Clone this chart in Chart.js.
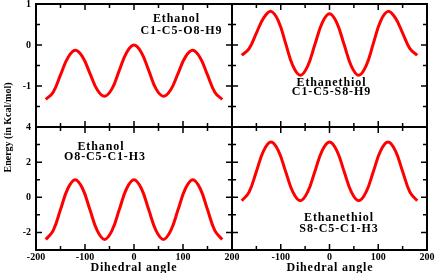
<!DOCTYPE html>
<html>
<head>
<meta charset="utf-8">
<title>Dihedral scans</title>
<script src="https://cdn.jsdelivr.net/npm/chart.js@4.4.1/dist/chart.umd.min.js"></script>
<style>
  html, body { margin: 0; padding: 0; background: #fff; }
  #wrap { position: relative; width: 436px; height: 273px; overflow: hidden; }
  #wrap canvas { position: absolute; left: 0; top: 0; }
</style>
</head>
<body>
<div id="wrap">
  <canvas id="panelTL" width="436" height="273"></canvas>
  <canvas id="panelTR" width="436" height="273"></canvas>
  <canvas id="panelBL" width="436" height="273"></canvas>
  <canvas id="panelBR" width="436" height="273"></canvas>
</div>
<script>
// dihedral angle (deg), same grid for all four scans
const angles = [-180, -165, -150, -135, -120, -105, -90, -75, -60, -45, -30, -15, 0,
                15, 30, 45, 60, 75, 90, 105, 120, 135, 150, 165, 180];

// energies (kcal/mol)
const ethanolC1C5O8H9 = [-1.33, -1.15, -0.73, -0.31, -0.13, -0.29, -0.69, -1.09, -1.25, -1.07, -0.62, -0.18, 0.0,
                         -0.18, -0.62, -1.07, -1.25, -1.09, -0.69, -0.29, -0.13, -0.31, -0.73, -1.15, -1.33];
const ethanethiolC1C5S8H9 = [-0.25, -0.09, 0.29, 0.66, 0.82, 0.59, 0.04, -0.51, -0.74, -0.52, 0.01, 0.54, 0.76,
                             0.54, 0.01, -0.52, -0.74, -0.51, 0.04, 0.59, 0.82, 0.66, 0.29, -0.09, -0.25];
const ethanolO8C5C1H3 = [-2.4, -1.9, -0.7, 0.5, 1.0, 0.5, -0.7, -1.9, -2.4, -1.9, -0.7, 0.5, 1.0,
                         0.5, -0.7, -1.9, -2.4, -1.9, -0.7, 0.5, 1.0, 0.5, -0.7, -1.9, -2.4];
const ethanethiolS8C5C1H3 = [-0.2, 0.29, 1.47, 2.66, 3.15, 2.66, 1.47, 0.29, -0.2, 0.29, 1.47, 2.66, 3.15,
                             2.66, 1.47, 0.29, -0.2, 0.29, 1.47, 2.66, 3.15, 2.66, 1.47, 0.29, -0.2];

// axis ranges / ticks
const xRange = [-200, 200];
const xStep = 50;
const topYRange = [-2, 1];
const topYStep = 0.5;
const bottomYRange = [-3, 4];
const bottomYStep = 1;

const W = 436, H = 273;
const FONT = "'Liberation Serif', 'Times New Roman', serif";

Chart.defaults.font.family = FONT;
Chart.defaults.font.weight = 'bold';
Chart.defaults.font.size = 10;
Chart.defaults.color = '#000';

function drawText(ctx, text, x, y, size, spacing) {
    ctx.font = "bold " + size + "px " + FONT;
    ctx.letterSpacing = spacing + "px";
    ctx.fillStyle = "#000";
    ctx.textAlign = "center";
    ctx.textBaseline = "alphabetic";
    // letterSpacing adds a trailing gap, shift back half of it
    ctx.fillText(text, x + spacing / 2, y);
    ctx.letterSpacing = "0px";
}

// frame, inward ticks and the panel captions
const framePlugin = {
    id: "frame",
    afterDraw(chart, args, opts) {
        const ctx = chart.ctx;
        const a = chart.chartArea;
        const xs = chart.scales.x;
        const ys = chart.scales.y;
        ctx.save();
        ctx.strokeStyle = "#000";
        ctx.lineWidth = 1.5;
        ctx.beginPath();
        xs.ticks.forEach(t => {
            const px = xs.getPixelForValue(t.value);
            const len = t.value % 100 === 0 ? 6 : 4;
            ctx.moveTo(px, a.bottom); ctx.lineTo(px, a.bottom - len);
            ctx.moveTo(px, a.top); ctx.lineTo(px, a.top + len);
        });
        ys.ticks.forEach(t => {
            const py = ys.getPixelForValue(t.value);
            const len = opts.yMajor(t.value) ? 6 : 4;
            ctx.moveTo(a.left, py); ctx.lineTo(a.left + len, py);
            ctx.moveTo(a.right, py); ctx.lineTo(a.right - len, py);
        });
        ctx.stroke();
        ctx.lineWidth = 2;
        ctx.strokeRect(a.left, a.top, a.right - a.left, a.bottom - a.top);

        (opts.notes || []).forEach(n => drawText(ctx, n.text, n.x, n.y, 12, 0.9));

        if (opts.titles) {
            drawText(ctx, "Dihedral angle", 133.5, 270.5, 12, 0.8);
            drawText(ctx, "Dihedral angle", 329.5, 270.5, 12, 0.8);
            ctx.translate(11, 127.5);
            ctx.rotate(-Math.PI / 2);
            drawText(ctx, "Energy (in Kcal/mol)", 0, 0, 10, 0);
        }
        ctx.restore();
    }
};

function makePanel(id, values, box, p) {
    const points = values.map((v, i) => ({ x: angles[i], y: v }));
    return new Chart(document.getElementById(id), {
        type: "line",
        data: {
            datasets: [{
                data: points,
                borderColor: "#ff0000",
                borderWidth: 3,
                pointRadius: 0,
                tension: 0.4,
                fill: false
            }]
        },
        options: {
            responsive: false,
            animation: false,
            devicePixelRatio: 1,
            events: [],
            layout: { padding: { left: 0, top: box.top, right: W - box.right, bottom: 0 } },
            plugins: {
                legend: { display: false },
                tooltip: { enabled: false },
                frame: { yMajor: p.yMajor, notes: p.notes, titles: p.titles }
            },
            scales: {
                x: {
                    type: "linear",
                    min: xRange[0],
                    max: xRange[1],
                    grid: { display: false, drawTicks: false },
                    border: { display: false },
                    ticks: {
                        display: p.showX,
                        stepSize: xStep,
                        autoSkip: false,
                        maxRotation: 0,
                        padding: 1,
                        callback: v => (v % 100 === 0 && !(p.skipFirstX && v === xRange[0])) ? String(v) : ""
                    },
                    afterFit: s => { s.height = H - box.bottom; s.paddingLeft = 0; s.paddingRight = 0; }
                },
                y: {
                    type: "linear",
                    min: p.yRange[0],
                    max: p.yRange[1],
                    grid: { display: false, drawTicks: false },
                    border: { display: false },
                    ticks: {
                        display: p.showY,
                        stepSize: p.yStep,
                        autoSkip: false,
                        padding: 5,
                        callback: p.yLabel
                    },
                    afterFit: s => { s.width = box.left; s.paddingTop = 0; s.paddingBottom = 0; }
                }
            }
        },
        plugins: [framePlugin]
    });
}

const topLabel = v => (Number.isInteger(v) && v > topYRange[0]) ? String(v) : "";
const bottomLabel = v => (v % 2 === 0) ? String(v) : "";

makePanel("panelTL", ethanolC1C5O8H9, { left: 36, top: 4, right: 232, bottom: 127 }, {
    yRange: topYRange, yStep: topYStep, yLabel: topLabel, yMajor: v => Number.isInteger(v),
    showX: false, showY: true,
    notes: [{ text: "Ethanol", x: 176, y: 21.5 }, { text: "C1-C5-O8-H9", x: 181, y: 34 }]
});
makePanel("panelTR", ethanethiolC1C5S8H9, { left: 232, top: 4, right: 427, bottom: 127 }, {
    yRange: topYRange, yStep: topYStep, yLabel: topLabel, yMajor: v => Number.isInteger(v),
    showX: false, showY: false,
    notes: [{ text: "Ethanethiol", x: 331, y: 85.5 }, { text: "C1-C5-S8-H9", x: 331, y: 95 }]
});
makePanel("panelBL", ethanolO8C5C1H3, { left: 36, top: 127, right: 232, bottom: 250 }, {
    yRange: bottomYRange, yStep: bottomYStep, yLabel: bottomLabel, yMajor: v => v % 2 === 0,
    showX: true, showY: true,
    notes: [{ text: "Ethanol", x: 100.5, y: 150 }, { text: "O8-C5-C1-H3", x: 104.5, y: 159.5 }]
});
makePanel("panelBR", ethanethiolS8C5C1H3, { left: 232, top: 127, right: 427, bottom: 250 }, {
    yRange: bottomYRange, yStep: bottomYStep, yLabel: bottomLabel, yMajor: v => v % 2 === 0,
    showX: true, showY: false, skipFirstX: true, titles: true,
    notes: [{ text: "Ethanethiol", x: 338.5, y: 220.5 }, { text: "S8-C5-C1-H3", x: 338.5, y: 232 }]
});
</script>
</body>
</html>
